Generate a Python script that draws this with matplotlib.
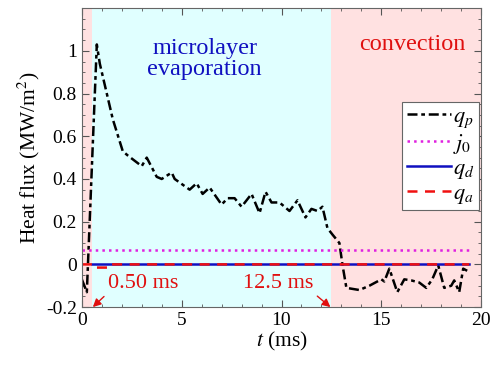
import numpy as np
import matplotlib.pyplot as plt
from matplotlib.ticker import MultipleLocator

plt.rcParams['font.family'] = ['Liberation Serif', 'DejaVu Serif']
plt.rcParams['mathtext.fontset'] = 'stix'

# measured wall heat flux q_p (MW/m^2) against time (ms)
t_p = [0.0, 0.25, 0.75, 0.9, 1.55, 2.05, 2.3, 3.0, 3.25, 3.75, 4.0, 4.5, 4.65,
       5.4, 5.75, 6.05, 6.4, 6.55, 7.0, 7.3, 7.65, 8.0, 8.5, 8.9, 9.2, 9.5,
       9.9, 10.4, 10.8, 11.2, 11.5, 11.8, 12.05, 12.3, 12.55, 12.9, 13.05,
       13.25, 13.9, 14.4, 14.8, 15.0, 15.15, 15.4, 15.8, 16.15, 16.5, 16.9,
       17.25, 17.55, 17.85, 18.15, 18.5, 18.65, 18.9, 19.1, 19.3]
q_p = [-0.07, -0.13, 1.03, 0.94, 0.68, 0.53, 0.51, 0.46, 0.50, 0.41, 0.40, 0.43, 0.40,
       0.35, 0.38, 0.33, 0.36, 0.34, 0.28, 0.31, 0.31, 0.27, 0.33, 0.24, 0.34, 0.29,
       0.29, 0.25, 0.30, 0.22, 0.26, 0.25, 0.27, 0.17, 0.14, 0.10, 0.0,
       -0.11, -0.12, -0.10, -0.08, -0.07, -0.08, -0.02, -0.13, -0.07, -0.075, -0.085,
       -0.11, -0.07, -0.005, -0.11, -0.10, -0.075, -0.13, -0.02, -0.03]

# reference flux j0 and model fluxes q_d, q_a
t_j = [0.0, 19.4]
j_0 = [0.066, 0.066]
t_d = [0.5, 19.4]
q_d = [0.0, 0.0]
t_a = [0.0, 0.55, 0.6, 1.3, 1.35, 19.4]
q_a = [0.0, 0.0, -0.015, -0.015, 0.0, 0.0]

# phase boundaries (ms)
t_start, t_end, t_max = 0.5, 12.5, 20

red = '#e01010'
blue = '#1010c0'

fig = plt.figure(figsize=(4.93, 3.70), dpi=100)
ax = fig.add_axes([0.166, 0.170, 0.810, 0.808])

ax.axvspan(0, t_start, color='#ffe1e1', lw=0)
ax.axvspan(t_start, t_end, color='#e0ffff', lw=0)
ax.axvspan(t_end, t_max, color='#ffe1e1', lw=0)

ax.plot(t_p, q_p, color='black', ls=(0, (4, 1.5, 1.5, 1.5)), lw=1.8, label='$q_p$')
ax.plot(t_j, j_0, color='#e020e0', ls=':', lw=1.8, label='$j_0$')
ax.plot(t_d, q_d, color=blue, ls='-', lw=1.8, label='$q_d$')
ax.plot(t_a, q_a, color='#f01010', ls=(0, (4, 3)), lw=1.8, label='$q_a$')

ax.set_xlim(0, t_max)
ax.set_ylim(-0.2, 1.2)
ax.xaxis.set_major_locator(MultipleLocator(5))
ax.xaxis.set_minor_locator(MultipleLocator(1))
ax.yaxis.set_minor_locator(MultipleLocator(0.05))
ax.set_yticks([-0.2, 0, 0.2, 0.4, 0.6, 0.8, 1.0])
ax.set_yticklabels(['-0.2', '0', '0.2', '0.4', '0.6', '0.8', '1'])
ax.tick_params(which='both', direction='in', top=True, right=True,
               labelsize=14, color='#555555')
ax.tick_params(which='major', length=5)
ax.tick_params(which='minor', length=2.5)
for s in ax.spines.values():
    s.set_color('#666666')

ax.set_xlabel('$t$ (ms)', fontsize=15.5, labelpad=1)
ax.set_ylabel('Heat flux (MW/m$^2$)', fontsize=15.5, labelpad=3)

ax.text(6.15, 0.962, 'microlayer\nevaporation', color=blue, fontsize=17.5,
        ha='center', va='center', linespacing=1.0)
ax.text(16.55, 1.028, 'convection', color=red, fontsize=17.5,
        ha='center', va='center')

ax.annotate('0.50 ms', xy=(t_start + 0.05, -0.2), xytext=(1.3, -0.089),
            color=red, fontsize=16, va='center', ha='left',
            arrowprops=dict(arrowstyle='-|>', color=red, lw=1.0,
                            shrinkA=1, shrinkB=0, mutation_scale=12,
                            relpos=(0.0, 0.0)))
ax.annotate('12.5 ms', xy=(t_end - 0.05, -0.2), xytext=(11.6, -0.089),
            color=red, fontsize=16, va='center', ha='right',
            arrowprops=dict(arrowstyle='-|>', color=red, lw=1.0,
                            shrinkA=1, shrinkB=0, mutation_scale=12,
                            relpos=(1.0, 0.0)))

leg = ax.legend(loc='lower right', bbox_to_anchor=(0.995, 0.324), fontsize=16,
                handlelength=2.0, handletextpad=0.1, borderpad=0.2,
                labelspacing=0.1, fancybox=False, framealpha=1,
                edgecolor='#666666', borderaxespad=0)
leg.get_frame().set_linewidth(0.8)

fig.savefig('out.png', dpi=100)
